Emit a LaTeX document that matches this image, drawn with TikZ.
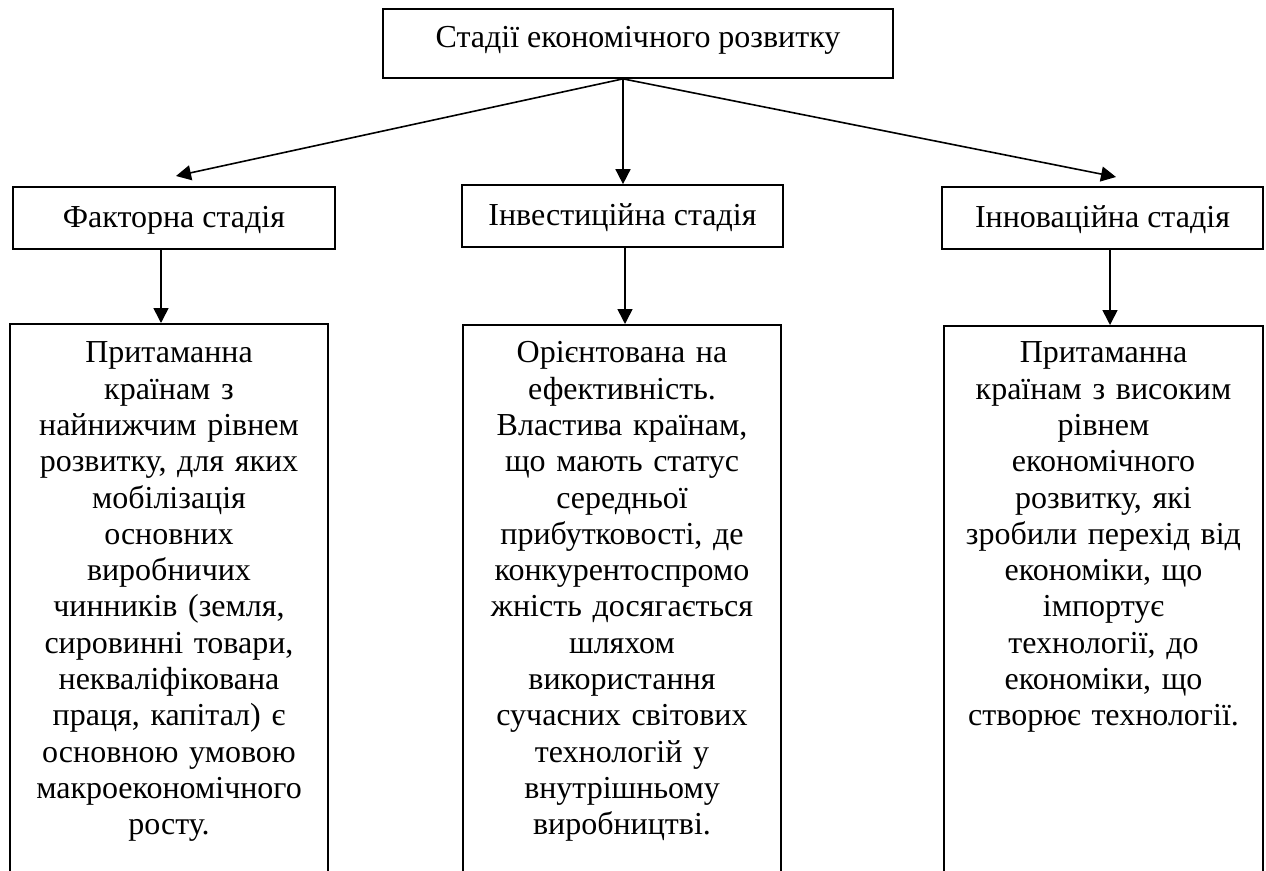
\documentclass[tikz,border=0pt]{standalone}
\usepackage{fontspec}
\setmainfont{Liberation Serif}
\usetikzlibrary{arrows.meta}
\begin{document}
\begin{tikzpicture}[x=1pt,y=-1pt,
  box/.style={draw,line width=1.7pt,inner sep=0pt},
  lbl/.style={font=\fontsize{32}{36.3}\selectfont},
  stagebox/.style={box,lbl,minimum height=62pt,text height=19pt,text depth=0pt},
  descbox/.style={box,lbl,anchor=north,text width=318pt,align=center},
  arr/.style={line width=1.6pt,-{Triangle[length=15pt,width=15pt]}}]
\clip (0,0) rectangle (1266,870);
\fill[white] (0,0) rectangle (1266,870);
% top
\node[box,lbl,minimum width=510pt,minimum height=69pt,text height=19pt,text depth=12pt] (top) at (638,43.5) {Стадії економічного розвитку};
% stages
\node[stagebox,minimum width=322pt] (f) at (174,218) {Факторна стадія};
\node[stagebox,minimum width=321pt] (i) at (622.5,216) {Інвестиційна стадія};
\node[stagebox,minimum width=321pt] (n) at (1102.5,218) {Інноваційна стадія};
% descriptions
\node[descbox] (fb) at (169,323) {\rule{0pt}{39pt}Притаманна\\країнам з\\найнижчим рівнем\\розвитку, для яких\\мобілізація\\основних\\виробничих\\чинників (земля,\\сировинні товари,\\некваліфікована\\праця, капітал) є\\основною умовою\\макроекономічного\\росту.\rule[-200pt]{0pt}{1pt}};
\node[descbox] (ib) at (622,324) {\rule{0pt}{38pt}Орієнтована на\\ефективність.\\Властива країнам,\\що мають статус\\середньої\\прибутковості, де\\конкурентоспромо\\жність досягається\\шляхом\\використання\\сучасних світових\\технологій у\\внутрішньому\\виробництві.\rule[-200pt]{0pt}{1pt}};
\node[descbox,text width=319pt] (nb) at (1103.5,325) {\rule{0pt}{37pt}Притаманна\\країнам з високим\\рівнем\\економічного\\розвитку, які\\зробили перехід від\\економіки, що\\імпортує\\технології, до\\економіки, що\\створює технології.\rule[-200pt]{0pt}{1pt}};
% connectors
\coordinate (xm) at (623,0);
\coordinate (o) at (top.south -| xm);
\coordinate (tl) at (176,176);
\coordinate (tr) at (1116,177);
\draw[arr] (o) -- (tl);
\draw[arr] (o) -- (i.north -| o);
\draw[arr] (o) -- (tr);
\coordinate (xl) at (161,0);
\coordinate (xc) at (625,0);
\coordinate (xr) at (1110,0);
\draw[arr] (f.south -| xl) -- (fb.north -| xl);
\draw[arr] (i.south -| xc) -- (ib.north -| xc);
\draw[arr] (n.south -| xr) -- (nb.north -| xr);
\end{tikzpicture}
\end{document}
